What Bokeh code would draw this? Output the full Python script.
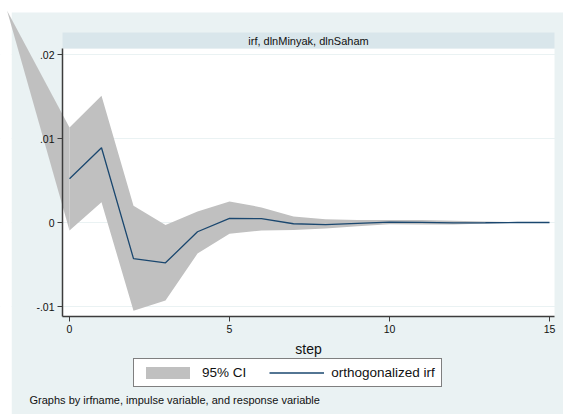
from bokeh.plotting import figure
from bokeh.models import (Range1d, FixedTicker, BoxAnnotation, PolyAnnotation,
                          Label, Legend, LegendItem)
from bokeh.embed import file_html
from bokeh.resources import INLINE

# ---- data ----
steps = list(range(16))
irf = [0.0052, 0.0089, -0.0043, -0.0048, -0.0011, 0.0005, 0.00045, -0.00015,
       -0.00025, -0.0001, 0.00005, 0.00002, -0.00005, -0.00003, 0.0, 0.0]
ci_lo = [-0.00095, 0.0024, -0.0105, -0.0093, -0.0037, -0.00135, -0.00095, -0.0009,
         -0.0007, -0.00045, -0.0002, -0.00025, -0.00025, -0.00012, -0.00005, -0.00002]
ci_hi = [0.0113, 0.0151, 0.0020, -0.0003, 0.0013, 0.0025, 0.0018, 0.0007,
         0.0004, 0.0003, 0.0003, 0.0003, 0.0002, 0.00013, 0.00005, 0.00002]
# the band's stray apex to the upper left, as drawn in the picture
spike_step = -1.95
spike_val = 0.0252

y_ticks = [-0.01, 0.0, 0.01, 0.02]
y_tick_labels = ["-.01", "0", ".01", ".02"]
x_ticks = [0, 5, 10, 15]

strip_title = "irf, dlnMinyak, dlnSaham"
note_text = "Graphs by irfname, impulse variable, and response variable"

# ---- style ----
BG = "#EAF2F3"
STRIP = "#D9E6EB"
GRAY = "#C0C0C0"
NAVY = "#1A476F"
AXIS = "#3C3C3C"
FONT = "Liberation Sans"
W, H = 563, 414
PX_X = 32.0      # pixels per step
PX_Y = 8400.0    # pixels per unit
ORIG_X, ORIG_Y = 69, 222   # pixel position of (0, 0)

def dx(px):
    return (px - ORIG_X) / PX_X

def dy(py):
    return (ORIG_Y - py) / PX_Y

# plot region and graph region
x0, x1 = dx(62), dx(554)
y0, y_top = dy(316), dy(48)
strip_top = dy(32)

p = figure(width=W, height=H, output_backend="svg", toolbar_location=None,
           x_range=Range1d(dx(0), dx(W)), y_range=Range1d(dy(H), dy(0)),
           min_border=0)
p.background_fill_color = "white"
p.border_fill_color = "white"
p.outline_line_color = None

# graph region background, plot region, strip (lowest level)
p.add_layout(BoxAnnotation(left=dx(11), top=dy(12), fill_color=BG, fill_alpha=1.0,
                           line_color=None, level="image"))
p.add_layout(BoxAnnotation(left=x0, right=x1, bottom=y0, top=y_top, fill_color="white",
                           fill_alpha=1.0, line_color=None, level="image"))
p.add_layout(BoxAnnotation(left=x0, right=x1, bottom=y_top, top=strip_top,
                           fill_color=STRIP, fill_alpha=1.0, line_color=None,
                           level="image"))
p.add_layout(Label(x=(x0 + x1) / 2, y=(y_top + strip_top) / 2, text=strip_title,
                   text_align="center", text_baseline="middle",
                   text_font=FONT, text_font_size="11px", text_color="#111111"))

# axes, drawn at the edges of the plot region
p.xaxis.ticker = FixedTicker(ticks=x_ticks)
p.yaxis.ticker = FixedTicker(ticks=y_ticks)
p.yaxis.major_label_overrides = dict(zip(y_ticks, y_tick_labels))
p.yaxis.fixed_location = x0
p.xaxis.fixed_location = y0
p.yaxis.bounds = (y0, y_top)
p.xaxis.bounds = (x0, x1)
for ax in (p.xaxis, p.yaxis):
    ax.axis_line_color = AXIS
    ax.axis_line_width = 1.5
    ax.major_tick_line_color = AXIS
    ax.major_tick_out = 5
    ax.major_tick_in = 0
    ax.minor_tick_line_color = None
    ax.major_label_text_font = FONT
    ax.major_label_text_font_size = "10.5px"
    ax.major_label_text_color = "#111111"
    ax.major_label_standoff = 3
p.yaxis.major_label_orientation = "horizontal"
p.xaxis.axis_label = "step"
p.xaxis.axis_label_text_font = FONT
p.xaxis.axis_label_text_font_size = "14px"
p.xaxis.axis_label_text_font_style = "normal"
p.xaxis.axis_label_text_color = "#111111"
p.xaxis.axis_label_standoff = 5

p.xgrid.grid_line_color = None
p.ygrid.ticker = FixedTicker(ticks=y_ticks)
p.ygrid.grid_line_color = BG
p.ygrid.grid_line_width = 1

# white page margin over grid line ends
p.add_layout(BoxAnnotation(right=dx(11), fill_color="white", fill_alpha=1.0,
                           line_color=None, level="underlay"))

# band and its stray apex
p.add_layout(PolyAnnotation(xs=[spike_step, steps[0], steps[0]],
                            ys=[spike_val, ci_hi[0], ci_lo[0]],
                            fill_color=GRAY, fill_alpha=1.0, line_color=None,
                            level="underlay"))
band = p.varea(x=steps, y1=ci_lo, y2=ci_hi, fill_color=GRAY, fill_alpha=1.0)
ln = p.line(steps, irf, line_color=NAVY, line_width=1.3)

legend = Legend(items=[LegendItem(label="95% CI", renderers=[band]),
                       LegendItem(label="orthogonalized irf", renderers=[ln])],
                orientation="horizontal", location=(133, 27),
                glyph_width=55, glyph_height=15, label_height=15,
                label_standoff=7, spacing=23, padding=6, margin=0,
                label_text_font=FONT, label_text_font_size="13.5px",
                label_text_color="#111111",
                border_line_color="black", border_line_width=1,
                background_fill_color="white", background_fill_alpha=1.0)
p.add_layout(legend)

p.add_layout(Label(x=29, y=15, x_units="screen", y_units="screen",
                   text=note_text, text_baseline="middle",
                   text_font=FONT, text_font_size="11px", text_color="#111111"))

open("out.html", "w").write(file_html(p, INLINE))
